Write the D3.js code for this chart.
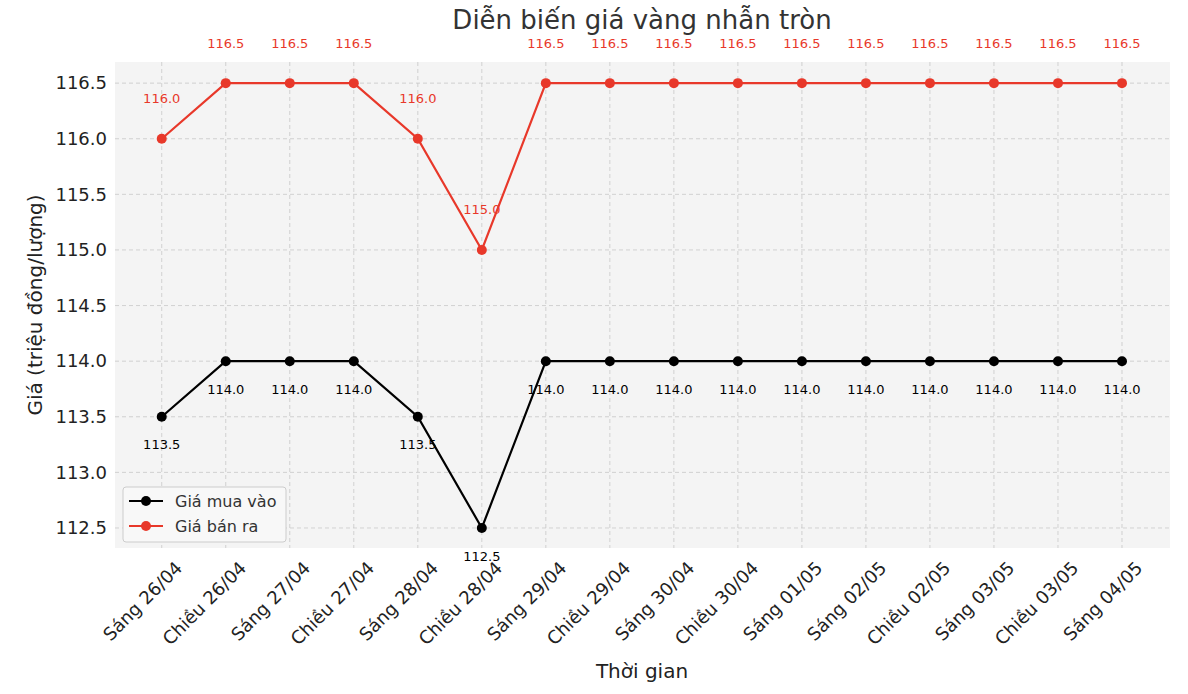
<!DOCTYPE html>
<html><head><meta charset="utf-8">
<script src="https://cdn.jsdelivr.net/npm/d3@7"></script>
<style>body{margin:0;background:#fff;font-family:"DejaVu Sans",sans-serif}</style>
</head><body><svg id="c" width="1188" height="694"></svg>
<script>
const categories=["Sáng 26/04","Chiều 26/04","Sáng 27/04","Chiều 27/04","Sáng 28/04","Chiều 28/04","Sáng 29/04","Chiều 29/04","Sáng 30/04","Chiều 30/04","Sáng 01/05","Sáng 02/05","Chiều 02/05","Sáng 03/05","Chiều 03/05","Sáng 04/05"];
const buyValues=[113.5,114.0,114.0,114.0,113.5,112.5,114.0,114.0,114.0,114.0,114.0,114.0,114.0,114.0,114.0,114.0];
const sellValues=[116.0,116.5,116.5,116.5,116.0,115.0,116.5,116.5,116.5,116.5,116.5,116.5,116.5,116.5,116.5,116.5];
const yTicks=[112.5,113.0,113.5,114.0,114.5,115.0,115.5,116.0,116.5];
const svg=d3.select("#c");
const L=115,R=1170,T=62,B=548;
const x=d3.scaleLinear().domain([-0.73,15.75]).range([L,R]);
const y=d3.scaleLinear().domain([112.32,116.69]).range([B,T]);
svg.append("rect").attr("x",L).attr("y",T).attr("width",R-L).attr("height",B-T).attr("fill","#f4f4f4");
const grid=svg.append("g").attr("stroke","#c8c8c8").attr("stroke-dasharray","4,3").attr("stroke-width",0.8);
categories.forEach((c,i)=>grid.append("line").attr("x1",x(i)).attr("x2",x(i)).attr("y1",T).attr("y2",B));
yTicks.forEach(v=>grid.append("line").attr("x1",L).attr("x2",R).attr("y1",y(v)).attr("y2",y(v)));
const ya=svg.append("g").attr("transform",`translate(${L},0)`).call(d3.axisLeft(y).tickValues(yTicks).tickFormat(d3.format(".1f")).tickSize(0).tickPadding(8));
ya.select(".domain").remove();
ya.selectAll("text").attr("font-size",18).attr("fill","#222").attr("font-family","DejaVu Sans");
const xa=svg.append("g").attr("transform",`translate(0,${B})`).call(d3.axisBottom(x).tickValues(d3.range(categories.length)).tickFormat(i=>categories[i]).tickSize(0));
xa.select(".domain").remove();
xa.selectAll("text").attr("font-size",18).attr("fill","#222").attr("font-family","DejaVu Sans")
  .attr("text-anchor","end").attr("transform","translate(10,10) rotate(-45)").attr("dy","0.71em").attr("dx","0");
function series(vals,color,off){
  const line=d3.line().x((d,i)=>x(i)).y(d=>y(d));
  svg.append("path").datum(vals).attr("d",line).attr("fill","none").attr("stroke",color).attr("stroke-width",2.2);
  svg.append("g").selectAll("circle").data(vals).join("circle").attr("cx",(d,i)=>x(i)).attr("cy",d=>y(d)).attr("r",5).attr("fill",color);
  svg.append("g").selectAll("text").data(vals).join("text").attr("x",(d,i)=>x(i)).attr("y",d=>y(d)+off)
    .attr("text-anchor","middle").attr("dy","0.35em").attr("font-size",13).attr("fill",color).text(d=>d.toFixed(1));
}
series(buyValues,"#000",28);
series(sellValues,"#e8382a",-40);
svg.append("text").attr("x",642).attr("y",29).attr("text-anchor","middle").attr("font-size",26).attr("fill","#333").text("Diễn biến giá vàng nhẫn tròn");
svg.append("text").attr("x",642).attr("y",678).attr("text-anchor","middle").attr("font-size",20).attr("fill","#222").text("Thời gian");
svg.append("text").attr("transform",`translate(42,${(T+B)/2}) rotate(-90)`).attr("text-anchor","middle").attr("font-size",20).attr("fill","#222").text("Giá (triệu đồng/lượng)");
const lg=svg.append("g").attr("transform","translate(123,487)");
lg.append("rect").attr("width",163).attr("height",55).attr("rx",3).attr("fill","#f8f8f8").attr("stroke","#ccc");
[["Giá mua vào","#000"],["Giá bán ra","#e8382a"]].forEach((d,i)=>{
  const g=lg.append("g").attr("transform",`translate(0,${14+i*25})`);
  g.append("line").attr("x1",6).attr("x2",40).attr("stroke",d[1]).attr("stroke-width",2.2);
  g.append("circle").attr("cx",23).attr("r",5).attr("fill",d[1]);
  g.append("text").attr("x",52).attr("dy","0.35em").attr("font-size",16).attr("fill","#333").text(d[0]);
});
</script></body></html>
